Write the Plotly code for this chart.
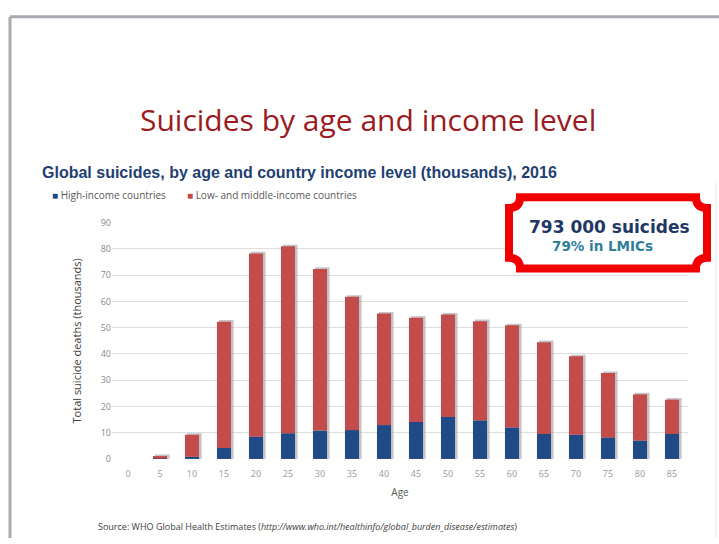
import plotly.graph_objects as go

# ---------------- data ----------------
ages = [0, 5, 10, 15, 20, 25, 30, 35, 40, 45, 50, 55, 60, 65, 70, 75, 80, 85]
high_income = [0.0, 0.2, 0.8, 4.2, 8.5, 9.8, 10.8, 11.0, 12.9, 14.1, 16.0, 14.7, 12.0, 9.5, 9.2, 8.2, 7.0, 9.5]
lmic = [0.0, 0.9, 8.4, 48.1, 69.8, 71.2, 61.6, 50.8, 42.5, 39.7, 39.0, 37.8, 38.9, 35.0, 29.9, 24.5, 17.6, 13.1]
y_ticks = [0, 10, 20, 30, 40, 50, 60, 70, 80, 90]
series_names = ["High-income countries", "Low- and middle-income countries"]

W, H = 719, 544
def px(x):
    return x / W
def py(y):
    return 1 - y / H

BLUE = "#1F4A85"
RED = "#C24B4B"

totals = [h + l for h, l in zip(high_income, lmic)]

fig = go.Figure()
# shadow behind bars
fig.add_trace(go.Bar(
    x=[a + 0.35 for a in ages], y=[t + 0.6 if t > 0 else 0 for t in totals],
    width=2.3, marker=dict(color="rgba(150,150,150,0.55)", line=dict(width=0)),
    showlegend=False, hoverinfo="skip"))
fig.add_trace(go.Bar(
    x=ages, y=high_income, base=[0] * len(ages), width=2.2, name=series_names[0],
    marker=dict(color=BLUE, line=dict(width=0)), showlegend=False))
fig.add_trace(go.Bar(
    x=ages, y=lmic, base=high_income, width=2.2, name=series_names[1],
    marker=dict(color=RED, line=dict(width=0)), showlegend=False))

fig.update_layout(
    width=W, height=H,
    margin=dict(l=0, r=0, t=0, b=0),
    paper_bgcolor="white", plot_bgcolor="white",
    barmode="overlay",
    font=dict(family="Open Sans, sans-serif", color="#595959"),
    showlegend=False,
    xaxis=dict(domain=[px(112), px(688)], range=[-2.5, 87.5],
               tickmode="array", tickvals=ages, ticktext=[str(a) for a in ages],
               showgrid=False, zeroline=False, showline=False,
               ticks="outside", ticklen=6, tickcolor="rgba(0,0,0,0)",
               tickfont=dict(size=9, color="#9a9a9a"),
               title=dict(text="Age", font=dict(size=10, color="#595959"), standoff=10)),
    yaxis=dict(domain=[py(463), py(221)], range=[0, 90],
               tickmode="array", tickvals=y_ticks,
               showgrid=True, gridcolor="#DDDDDD", gridwidth=1,
               zeroline=False, showline=False, ticks="",
               tickfont=dict(size=9, color="#8a8a8a"),
               title=dict(text="Total suicide deaths (thousands)",
                          font=dict(size=11, color="#404040"), standoff=16)),
)

shapes = []
# slide frame lines
shapes.append(dict(type="line", xref="paper", yref="paper", x0=px(10), x1=px(719), y0=py(10), y1=py(10),
                   line=dict(color="#A7ABAF", width=3)))
shapes.append(dict(type="line", xref="paper", yref="paper", x0=px(10), x1=px(10), y0=py(10), y1=py(544),
                   line=dict(color="#A7ABAF", width=3)))
shapes.append(dict(type="line", xref="paper", yref="paper", x0=px(716), x1=px(716), y0=py(180), y1=py(544),
                   line=dict(color="#E6E6E6", width=1)))

# red callout frame with concave corners
x0, x1, y0, y1, r = 509, 707, 195, 268, 11
pts = (
    f"M {px(x0 + r)},{py(y0)} L {px(x1 - r)},{py(y0)} "
    f"Q {px(x1 - r)},{py(y0 + r)} {px(x1)},{py(y0 + r)} "
    f"L {px(x1)},{py(y1 - r)} "
    f"Q {px(x1 - r)},{py(y1 - r)} {px(x1 - r)},{py(y1)} "
    f"L {px(x0 + r)},{py(y1)} "
    f"Q {px(x0 + r)},{py(y1 - r)} {px(x0)},{py(y1 - r)} "
    f"L {px(x0)},{py(y0 + r)} "
    f"Q {px(x0 + r)},{py(y0 + r)} {px(x0 + r)},{py(y0)} Z"
)
shapes.append(dict(type="path", xref="paper", yref="paper", path=pts,
                   fillcolor="white", line=dict(color="#F00000", width=8), layer="above"))
fig.update_layout(shapes=shapes)

ann = []
ann.append(dict(text="Suicides by age and income level", x=px(368), y=py(115), xref="paper", yref="paper",
                showarrow=False, xanchor="center", yanchor="middle",
                font=dict(family="Open Sans, sans-serif", size=30, color="#9B1B1F")))
ann.append(dict(text="<b>Global suicides, by age and country income level (thousands), 2016</b>",
                x=px(40), y=py(170), xref="paper", yref="paper", showarrow=False,
                xanchor="left", yanchor="middle",
                font=dict(family="Liberation Sans, Arial, sans-serif", size=16, color="#1F3F73")))
# legend drawn as text
ann.append(dict(text=f"<span style='color:{BLUE}'>■</span> {series_names[0]}",
                x=px(50), y=py(193), xref="paper", yref="paper", showarrow=False,
                xanchor="left", yanchor="middle", font=dict(size=10, color="#595959")))
ann.append(dict(text=f"<span style='color:{RED}'>■</span> {series_names[1]}",
                x=px(185), y=py(193), xref="paper", yref="paper", showarrow=False,
                xanchor="left", yanchor="middle", font=dict(size=10, color="#595959")))
ann.append(dict(text="<b>793 000 suicides</b>", x=px(609), y=py(225), xref="paper", yref="paper",
                showarrow=False, xanchor="center", yanchor="middle",
                font=dict(family="DejaVu Sans, sans-serif", size=17, color="#1F3864")))
ann.append(dict(text="<b>79% in LMICs</b>", x=px(602), y=py(245), xref="paper", yref="paper",
                showarrow=False, xanchor="center", yanchor="middle",
                font=dict(family="DejaVu Sans, sans-serif", size=13.5, color="#2F7F9A")))
ann.append(dict(text="Source: WHO Global Health Estimates (<i>http://www.who.int/healthinfo/global_burden_disease/estimates</i>)",
                x=px(96), y=py(532), xref="paper", yref="paper", showarrow=False,
                xanchor="left", yanchor="middle",
                font=dict(family="Open Sans, sans-serif", size=9, color="#404040")))
fig.update_layout(annotations=ann)

fig.write_html("out.html", config={"displayModeBar": False},
               post_script="document.body.style.margin='0';document.body.style.overflow='hidden';")
